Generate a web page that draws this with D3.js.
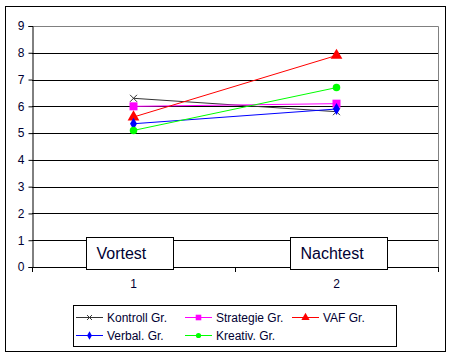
<!DOCTYPE html>
<html><head><meta charset="utf-8">
<script src="https://cdn.jsdelivr.net/npm/d3@7"></script>
<style>body{margin:0;background:#fff}svg{display:block}text{font-family:"Liberation Sans",Arial,sans-serif}</style>
</head><body>
<script>
const categories = ["1", "2"];
const boxLabels = ["Vortest", "Nachtest"];
const yTicks = [0,1,2,3,4,5,6,7,8,9];
const seriesNames = ["Kontroll Gr.", "Strategie Gr.", "VAF Gr.", "Verbal. Gr.", "Kreativ. Gr."];
const kontroll = [6.3, 5.8];
const strategie = [6.0, 6.1];
const vaf = [5.6, 7.9];
const verbal = [5.35, 5.9];
const kreativ = [5.1, 6.7];
const seriesValues = [kontroll, strategie, vaf, verbal, kreativ];
const colors = ["#333333", "#ff00ff", "#ff0000", "#0000ff", "#00ff00"];
const symbols = ["x", "square", "triangle", "diamond", "circle"];

const W = 454, H = 357;
const svg = d3.select("body").append("svg").attr("width", W).attr("height", H);
svg.append("rect").attr("x", 5.5).attr("y", 6.5).attr("width", 440).attr("height", 345)
  .attr("fill", "#fff").attr("stroke", "#000").attr("stroke-width", 1);

const L = 32, R = 438, T = 26, B = 267;
const x = d3.scaleBand().domain(categories).range([L, R]);
const y = d3.scaleLinear().domain([0, 9]).range([B, T]);
const txtCol = "#000033";

// gridlines
svg.append("g").selectAll("line").data(yTicks.filter(d => d > 0 && d < 9)).join("line")
  .attr("x1", L).attr("x2", R).attr("y1", d => Math.round(y(d)) + 0.5).attr("y2", d => Math.round(y(d)) + 0.5)
  .attr("stroke", "#000");
// plot border (gray top/right)
svg.append("path").attr("d", `M${L},${T+0.5}H${R+0.5}V${B}`).attr("fill", "none").attr("stroke", "#808080");

// y axis
const yAx = svg.append("g").attr("transform", `translate(${L+0.5},0)`)
  .call(d3.axisLeft(y).tickValues(yTicks).tickSize(4).tickPadding(4).tickFormat(d3.format("d")));
yAx.select(".domain").attr("stroke", "#000");
yAx.selectAll(".tick line").attr("stroke", "#000");
yAx.selectAll(".tick text").attr("font-size", 12).attr("fill", txtCol)
  .attr("font-family", '"Liberation Sans",Arial,sans-serif');

// x axis
const xAx = svg.append("g").attr("transform", `translate(0,${Math.round(B)+0.5})`)
  .call(d3.axisBottom(x).tickSize(0).tickPadding(12));
xAx.select(".domain").attr("stroke", "#000").attr("d", `M${L},0H${R}`);
xAx.selectAll(".tick text").attr("font-size", 12).attr("fill", txtCol)
  .attr("font-family", '"Liberation Sans",Arial,sans-serif');
svg.append("g").selectAll("line").data([L, L + x.bandwidth(), R]).join("line")
  .attr("x1", d => Math.round(d) + 0.5).attr("x2", d => Math.round(d) + 0.5)
  .attr("y1", B).attr("y2", B + 5).attr("stroke", "#000");

// text boxes
const boxW = [87, 97], boxOff = [-48, -47];
boxLabels.forEach((lab, i) => {
  const cx = x(categories[i]) + x.bandwidth() / 2;
  const bx = Math.round(cx + boxOff[i]) + 0.5;
  svg.append("rect").attr("x", bx).attr("y", 237.5).attr("width", boxW[i]).attr("height", 32)
    .attr("fill", "#fff").attr("stroke", "#000");
  svg.append("text").attr("x", bx + 10).attr("y", 259).attr("font-size", 16).attr("fill", txtCol).text(lab);
});

function marker(g, type, col, cx, cy, k) {
  if (type === "x") {
    const r = 3.5 * k;
    g.append("path").attr("d", `M${cx-r},${cy-r}L${cx+r},${cy+r}M${cx-r},${cy+r}L${cx+r},${cy-r}`)
      .attr("stroke", col).attr("stroke-width", 1).attr("fill", "none");
  } else {
    const sym = {square: d3.symbolSquare, triangle: d3.symbolTriangle, diamond: d3.symbolDiamond, circle: d3.symbolCircle}[type];
    const size = {square: 64, triangle: 60, diamond: 42, circle: 44}[type] * k * k;
    g.append("path").attr("d", d3.symbol(sym, size)()).attr("transform", `translate(${cx},${cy})`).attr("fill", col);
  }
}

const line = d3.line().x((d, i) => x(categories[i]) + x.bandwidth() / 2).y(d => y(d));
seriesValues.forEach((vals, s) => {
  const g = svg.append("g");
  g.append("path").datum(vals).attr("d", line).attr("fill", "none").attr("stroke", colors[s]).attr("stroke-width", 1);
  vals.forEach((v, i) => marker(g, symbols[s], colors[s], x(categories[i]) + x.bandwidth() / 2, y(v), 1));
});

// legend
svg.append("rect").attr("x", 73.5).attr("y", 305.5).attr("width", 323).attr("height", 41).attr("fill", "#fff").attr("stroke", "#000");
const legX = [76, 185, 292], legY = [317, 335];
seriesNames.forEach((n, s) => {
  const lx = legX[s % 3], ly = legY[Math.floor(s / 3)];
  const g = svg.append("g");
  g.append("line").attr("x1", lx).attr("x2", lx + 27).attr("y1", ly + 0.5).attr("y2", ly + 0.5).attr("stroke", colors[s]);
  marker(g, symbols[s], colors[s], lx + 13.5, ly + 0.5, 0.7);
  svg.append("text").attr("x", lx + 31).attr("y", ly + 4.5).attr("font-size", 12).attr("fill", txtCol).text(n);
});
</script>
</body></html>
